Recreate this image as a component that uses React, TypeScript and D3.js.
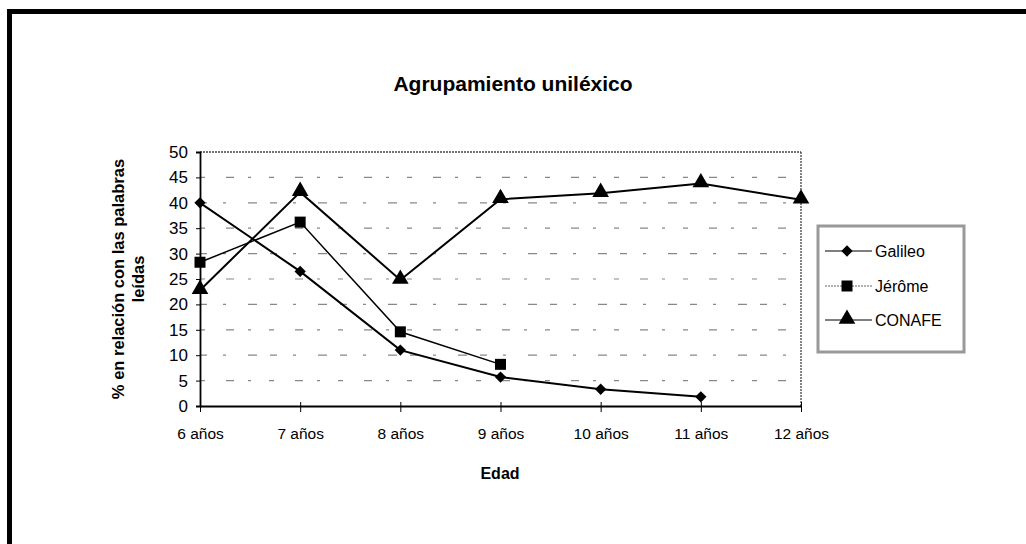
import React, { useEffect, useRef } from 'react';
import * as d3 from 'd3';

const categories = ['6 años', '7 años', '8 años', '9 años', '10 años', '11 años', '12 años'];
const yTicks = [0, 5, 10, 15, 20, 25, 30, 35, 40, 45, 50];

const galileo: (number | null)[] = [40, 26.5, 11, 5.7, 3.3, 1.8, null];
const jerome: (number | null)[] = [28.3, 36.2, 14.6, 8.2, null, null, null];
const conafe: (number | null)[] = [22.8, 42.1, 24.8, 40.7, 41.9, 43.8, 40.6];

const seriesNames = ['Galileo', 'Jérôme', 'CONAFE'];
const markers = ['diamond', 'square', 'triangle'];

const FONT = 'Liberation Sans, Arial, sans-serif';

const App: React.FC = () => {
  const svgRef = useRef<SVGSVGElement>(null);

  useEffect(() => {
    if (!svgRef.current) return;
    const svg = d3.select(svgRef.current);
    svg.selectAll('*').remove();

    const W = 1026;
    const H = 544;
    svg.append('rect').attr('width', W).attr('height', H).attr('fill', '#fff');

    // page frame (scan border, top and left only)
    svg.append('rect').attr('x', 7).attr('y', 9).attr('width', W - 7).attr('height', 5).attr('fill', '#000');
    svg.append('rect').attr('x', 7).attr('y', 9).attr('width', 5).attr('height', H - 9).attr('fill', '#000');

    const x = d3.scalePoint<string>().domain(categories).range([200, 801]);
    const y = d3.scaleLinear().domain([0, 50]).range([406, 152]);

    // gridlines
    const grid = svg.append('g');
    grid.selectAll('line.g')
      .data(yTicks.filter(t => t > 0 && t < 50))
      .enter()
      .append('line')
      .attr('x1', 200)
      .attr('x2', 801)
      .attr('y1', d => y(d))
      .attr('y2', d => y(d))
      .attr('stroke', '#888')
      .attr('stroke-width', 1.2)
      .attr('stroke-dasharray', (d, i) => (i % 2 ? '7 16 3 22 9 13' : '5 21 8 14 3 18'));

    // top border (dotted) and right border
    grid.append('line')
      .attr('x1', 200).attr('x2', 801)
      .attr('y1', y(50)).attr('y2', y(50))
      .attr('stroke', '#444').attr('stroke-width', 1.3).attr('stroke-dasharray', '2 1');
    grid.append('line')
      .attr('x1', 801).attr('x2', 801)
      .attr('y1', y(50)).attr('y2', y(0))
      .attr('stroke', '#444').attr('stroke-width', 1.3).attr('stroke-dasharray', '2 1');

    // axes
    const yAxis = svg.append('g')
      .attr('transform', 'translate(200,0)')
      .call(d3.axisLeft(y).tickValues(yTicks).tickSize(4).tickPadding(8));
    yAxis.select('.domain').attr('stroke', '#000').attr('stroke-width', 1.8);
    yAxis.selectAll('.tick line').attr('stroke', '#000');
    yAxis.selectAll('.tick text')
      .attr('font-family', FONT).attr('font-size', 17).attr('fill', '#000');

    const xAxis = svg.append('g')
      .attr('transform', `translate(0,${y(0)})`)
      .call(d3.axisBottom(x).tickSize(6).tickPadding(16).tickSizeOuter(0));
    xAxis.select('.domain').attr('stroke', '#000').attr('stroke-width', 1.8);
    xAxis.selectAll('.tick line').attr('stroke', '#000').attr('y1', -4);
    xAxis.selectAll('.tick text')
      .attr('font-family', FONT).attr('font-size', 15.5).attr('fill', '#000');

    // series
    const allSeries = [galileo, jerome, conafe];
    const line = d3.line<number | null>()
      .defined(d => d !== null)
      .x((_, i) => x(categories[i]) as number)
      .y(d => y(d as number));

    const symbolFor = (m: string) =>
      m === 'diamond'
        ? d3.symbol().type(d3.symbolSquare).size(64)
        : m === 'square'
          ? d3.symbol().type(d3.symbolSquare).size(121)
          : d3.symbol().type(d3.symbolTriangle).size(120);
    const rot = (m: string) => (m === 'diamond' ? ' rotate(45)' : '');

    allSeries.forEach((vals, si) => {
      svg.append('path')
        .attr('d', line(vals) || '')
        .attr('fill', 'none')
        .attr('stroke', '#000')
        .attr('stroke-width', si === 1 ? 1.5 : 2);
      svg.selectAll(`path.m${si}`)
        .data(vals.map((v, i) => ({ v, i })).filter(d => d.v !== null))
        .enter()
        .append('path')
        .attr('class', `m${si}`)
        .attr('d', symbolFor(markers[si])() as string)
        .attr('transform', d => `translate(${x(categories[d.i])},${y(d.v as number) + (markers[si] === 'triangle' ? -1 : 0)})${rot(markers[si])}`)
        .attr('fill', '#000');
    });

    // title
    svg.append('text')
      .attr('x', 513).attr('y', 91)
      .attr('text-anchor', 'middle')
      .attr('font-family', FONT).attr('font-size', 21).attr('font-weight', 'bold')
      .text('Agrupamiento uniléxico');

    // y title
    const yt = svg.append('text')
      .attr('transform', 'translate(124,279) rotate(-90)')
      .attr('text-anchor', 'middle')
      .attr('font-family', FONT).attr('font-size', 16.5).attr('font-weight', 'bold');
    yt.append('tspan').attr('x', 0).attr('y', 0).text('% en relación con las palabras');
    yt.append('tspan').attr('x', 0).attr('y', 20).text('leídas');

    // x title
    svg.append('text')
      .attr('x', 500).attr('y', 479)
      .attr('text-anchor', 'middle')
      .attr('font-family', FONT).attr('font-size', 16).attr('font-weight', 'bold')
      .text('Edad');

    // legend
    const lg = svg.append('g');
    lg.append('rect')
      .attr('x', 818).attr('y', 226).attr('width', 146).attr('height', 126)
      .attr('fill', '#fff').attr('stroke', '#999').attr('stroke-width', 3);
    const legendY = [251, 286, 320];
    seriesNames.forEach((name, i) => {
      lg.append('line')
        .attr('x1', 825).attr('x2', 872)
        .attr('y1', legendY[i]).attr('y2', legendY[i])
        .attr('stroke', i === 1 ? '#666' : '#000')
        .attr('stroke-width', 1.2)
        .attr('stroke-dasharray', i === 1 ? '2 1' : null);
      lg.append('path')
        .attr('d', symbolFor(markers[i])() as string)
        .attr('transform', `translate(847,${legendY[i] - (i === 2 ? 1 : 0)})${rot(markers[i])}`)
        .attr('fill', '#000');
      lg.append('text')
        .attr('x', 875).attr('y', legendY[i] + 6)
        .attr('font-family', FONT).attr('font-size', 16)
        .text(name);
    });
  }, []);

  return (
    <svg
      ref={svgRef}
      width={1026}
      height={544}
      style={{ position: 'absolute', left: 0, top: 0 }}
    />
  );
};

export default App;
